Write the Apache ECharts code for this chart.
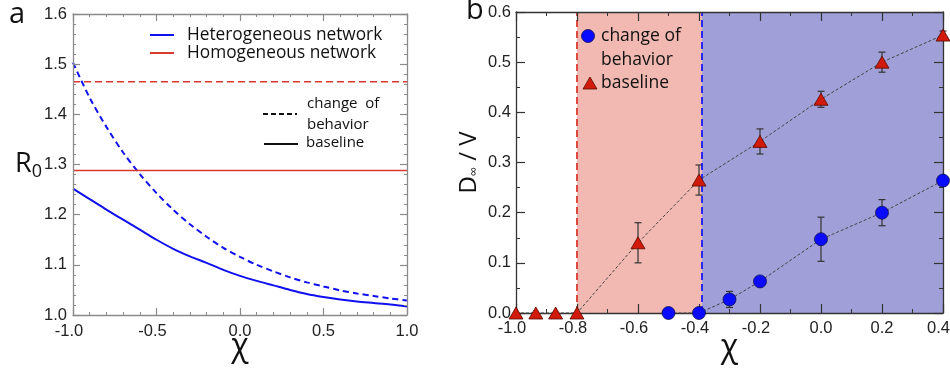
<!DOCTYPE html>
<html><head><meta charset="utf-8">
<script src="https://cdn.jsdelivr.net/npm/echarts@6/dist/echarts.min.js"></script>
<style>html,body{margin:0;padding:0;background:#fff}#c{width:950px;height:368px}</style>
</head><body><div id="c"></div>
<script>
// ---- Panel a data ----
const chiCurve = [-1.0,-0.9,-0.8,-0.7,-0.6,-0.5,-0.4,-0.3,-0.2,-0.1,0.0,0.1,0.2,0.3,0.4,0.5,0.6,0.7,0.8,0.9,1.0];
const r0HetChange = [1.503,1.433,1.375,1.324,1.281,1.243,1.210,1.181,1.156,1.134,1.116,1.100,1.087,1.075,1.065,1.057,1.049,1.043,1.038,1.033,1.029];
const r0HetBase = [1.252,1.231,1.210,1.190,1.170,1.150,1.132,1.117,1.104,1.090,1.078,1.068,1.059,1.050,1.042,1.036,1.031,1.027,1.024,1.021,1.017];
const r0HomChange = 1.465;
const r0HomBase = 1.288;
// ---- Panel b data ----
const chiBase = [-1.0,-0.935,-0.87,-0.8,-0.6,-0.4,-0.2,0.0,0.2,0.4];
const dBase = [0,0,0,0,0.140,0.265,0.342,0.426,0.500,0.554];
const dBaseErr = [0,0,0,0,0.040,0.030,0.025,0.016,0.020,0.008];
const chiChange = [-0.5,-0.4,-0.3,-0.2,0.0,0.2,0.4];
const dChange = [0,0,0.027,0.063,0.147,0.200,0.264];
const dChangeErr = [0,0,0.016,0,0.044,0.026,0];
const thrHom = -0.8, thrHet = -0.39, chiMaxB = 0.4;

const FONT = '"Liberation Sans", Arial, sans-serif';
const TFONT = '"Open Sans", "DejaVu Sans", sans-serif';

function pairs(xs, ys){ return xs.map((x,i)=>[x, ys[i]]); }
function errData(xs, ys, es){ return xs.map((x,i)=>[x, ys[i]-es[i], ys[i]+es[i]]).filter((d,i)=>es[i]>0); }

function errRender(params, api){
  const x = api.value(0);
  const p1 = api.coord([x, api.value(1)]);
  const p2 = api.coord([x, api.value(2)]);
  const w = 3.5, st = {stroke:'#333', lineWidth:1.2};
  return {type:'group', children:[
    {type:'line', shape:{x1:p1[0],y1:p1[1],x2:p2[0],y2:p2[1]}, style:st},
    {type:'line', shape:{x1:p1[0]-w,y1:p1[1],x2:p1[0]+w,y2:p1[1]}, style:st},
    {type:'line', shape:{x1:p2[0]-w,y1:p2[1],x2:p2[0]+w,y2:p2[1]}, style:st}
  ]};
}

function axisCommon(color, majorLen, minorLen, split){
  return {
    z:10,
    nameMoveOverlap:false,
    axisLine:{show:true, onZero:false, lineStyle:{color:color, width:1.3}},
    axisTick:{show:true, inside:true, length:majorLen, lineStyle:{color:color, width:1.2}},
    minorTick:{show:true, splitNumber:split, length:minorLen, lineStyle:{color:color, width:1}},
    splitLine:{show:false}
  };
}

const chart = echarts.init(document.getElementById('c'), null, {renderer:'canvas'});
const gA = '#8a8a8a', gB = '#333';
const labelStyle = {color:'#222', fontFamily:FONT, fontSize:16.5};
const xRich = {
  n:{fontFamily:FONT, fontSize:16.5, color:'#222'},
  neg:{fontFamily:FONT, fontSize:16.5, color:'#222', padding:[0,8,0,0]},
  edge:{fontFamily:FONT, fontSize:16.5, color:'#222', padding:[0,9,0,0]}
};
function xFmt(maxV){
  return v => {
    const s = v.toFixed(1);
    if (v < 0) return '{neg|' + s + '}';
    if (Math.abs(v - maxV) < 1e-9 && maxV < 1) return '{edge|' + s + '}';
    return '{n|' + s + '}';
  };
}

const option = {
  animation:false,
  grid:[
    {left:73, top:14, width:334, height:301, outerBoundsMode:'none', containLabel:false},
    {left:516, top:12, width:427, height:301, outerBoundsMode:'none', containLabel:false}
  ],
  xAxis:[
    Object.assign({type:'value', gridIndex:0, min:-1, max:1, interval:0.5, position:'bottom',
      name:'χ', nameLocation:'middle', nameGap:16, nameTextStyle:{fontFamily:TFONT, fontSize:32, color:'#111'},
      axisLabel:{margin:8, formatter:xFmt(1), rich:xRich}}, axisCommon(gA,7,3,5)),
    Object.assign({type:'value', gridIndex:0, min:-1, max:1, interval:0.5, position:'top', axisLabel:{show:false}}, axisCommon(gA,7,3,5)),
    Object.assign({type:'value', gridIndex:1, min:-1, max:chiMaxB, interval:0.2, position:'bottom',
      name:'χ', nameLocation:'middle', nameGap:19, nameTextStyle:{fontFamily:TFONT, fontSize:32, color:'#111'},
      axisLabel:{margin:7, formatter:xFmt(chiMaxB), rich:xRich}}, axisCommon(gB,9,4,2)),
    Object.assign({type:'value', gridIndex:1, min:-1, max:chiMaxB, interval:0.2, position:'top', axisLabel:{show:false}}, axisCommon(gB,9,4,2))
  ],
  yAxis:[
    Object.assign({type:'value', gridIndex:0, min:1.0, max:1.6, interval:0.1, position:'left',
      name:'{r|R}{s|0}', nameLocation:'middle', nameRotate:0, nameGap:31,
      nameTextStyle:{rich:{r:{fontFamily:TFONT, fontSize:27, color:'#111'}, s:{fontFamily:TFONT, fontSize:18, color:'#111', padding:[14,0,0,0]}}},
      axisLabel:Object.assign({margin:6, formatter:v=>v.toFixed(1)}, labelStyle)}, axisCommon(gA,7,3,5)),
    Object.assign({type:'value', gridIndex:0, min:1.0, max:1.6, interval:0.1, position:'right', axisLabel:{show:false}}, axisCommon(gA,7,3,5)),
    Object.assign({type:'value', gridIndex:1, min:0, max:0.6, interval:0.1, position:'left',
      name:'D{s|∞} / V', nameLocation:'middle', nameRotate:90, nameGap:35,
      nameTextStyle:{fontFamily:TFONT, fontSize:24, color:'#111', rich:{s:{fontFamily:TFONT, fontSize:13, color:'#111', padding:[10,0,0,0]}}},
      axisLabel:Object.assign({margin:5, formatter:v=>v.toFixed(1)}, labelStyle)}, axisCommon(gB,9,4,2)),
    Object.assign({type:'value', gridIndex:1, min:0, max:0.6, interval:0.1, position:'right', axisLabel:{show:false}}, axisCommon(gB,9,4,2))
  ],
  series:[
    // Panel a
    {type:'line', xAxisIndex:0, yAxisIndex:0, data:pairs(chiCurve, r0HetChange), showSymbol:false, smooth:0.3,
      lineStyle:{color:'#1010f0', width:2, type:[6,4]}},
    {type:'line', xAxisIndex:0, yAxisIndex:0, data:pairs(chiCurve, r0HetBase), showSymbol:false, smooth:0.3,
      lineStyle:{color:'#1010f0', width:2}},
    {type:'line', xAxisIndex:0, yAxisIndex:0, data:[[-1, r0HomChange],[1, r0HomChange]], showSymbol:false,
      lineStyle:{color:'#d83a30', width:1.6, type:[7,4]}},
    {type:'line', xAxisIndex:0, yAxisIndex:0, data:[[-1, r0HomBase],[1, r0HomBase]], showSymbol:false,
      lineStyle:{color:'#d83a30', width:1.6}},
    // Panel b shading + threshold lines
    {type:'line', xAxisIndex:2, yAxisIndex:2, data:[], silent:true,
      markArea:{silent:true, itemStyle:{opacity:1}, data:[
        [{xAxis:thrHom, itemStyle:{color:'#f1b9b1'}},{xAxis:thrHet}],
        [{xAxis:thrHet, itemStyle:{color:'#a09fd8'}},{xAxis:chiMaxB}]
      ]},
      markLine:{silent:true, symbol:'none', label:{show:false}, data:[
        {xAxis:thrHom, lineStyle:{color:'#d83a30', width:1.8, type:[7,4]}},
        {xAxis:thrHet, lineStyle:{color:'#1a1aff', width:1.8, type:[7,4]}}
      ]}
    },
    // error bars
    {type:'custom', xAxisIndex:2, yAxisIndex:2, renderItem:errRender, data:errData(chiBase, dBase, dBaseErr), z:3},
    {type:'custom', xAxisIndex:2, yAxisIndex:2, renderItem:errRender, data:errData(chiChange, dChange, dChangeErr), z:3},
    // data series
    {type:'line', name:'baseline', xAxisIndex:2, yAxisIndex:2, data:pairs(chiBase, dBase), clip:false,
      symbol:'triangle', symbolSize:[14,12], lineStyle:{color:'#444', width:1, type:[3,2]},
      itemStyle:{color:'#d11a0a', borderColor:'#5a0a00', borderWidth:0.8}, z:12},
    {type:'line', name:'change of behavior', xAxisIndex:2, yAxisIndex:2, data:pairs(chiChange, dChange), clip:false,
      symbol:'circle', symbolSize:13, lineStyle:{color:'#444', width:1, type:[3,2]},
      itemStyle:{color:'#0a0aff', borderColor:'#101050', borderWidth:0.8}, z:13}
  ],
  graphic:[
    {type:'text', left:9, top:0, style:{text:'a', font:'29px '+TFONT, fill:'#111'}},
    {type:'text', left:466, top:-4, style:{text:'b', font:'29px '+TFONT, fill:'#111'}},
    // legend a
    {type:'line', shape:{x1:150,y1:35,x2:174,y2:35}, style:{stroke:'#1010f0', lineWidth:2}},
    {type:'text', x:187, y:35, style:{text:'Heterogeneous network', font:'17.3px '+TFONT, fill:'#111', verticalAlign:'middle'}},
    {type:'line', shape:{x1:150,y1:53,x2:174,y2:53}, style:{stroke:'#d83a30', lineWidth:2}},
    {type:'text', x:187, y:53, style:{text:'Homogeneous network', font:'17.3px '+TFONT, fill:'#111', verticalAlign:'middle'}},
    {type:'line', shape:{x1:263,y1:114,x2:297,y2:114}, style:{stroke:'#111', lineWidth:2, lineDash:[5,3]}},
    {type:'text', x:307, y:104, style:{text:'change  of', font:'15px '+TFONT, fill:'#111', verticalAlign:'middle'}},
    {type:'text', x:307, y:125, style:{text:'behavior', font:'15px '+TFONT, fill:'#111', verticalAlign:'middle'}},
    {type:'line', shape:{x1:264,y1:144,x2:298,y2:144}, style:{stroke:'#111', lineWidth:2}},
    {type:'text', x:306, y:143, style:{text:'baseline', font:'15px '+TFONT, fill:'#111', verticalAlign:'middle'}},
    // legend b
    {type:'circle', z:20, shape:{cx:588, cy:36, r:6.5}, style:{fill:'#0a0aff', stroke:'#101050', lineWidth:0.8}},
    {type:'text', z:20, x:601, y:36, style:{text:'change of', font:'17.5px '+TFONT, fill:'#111', verticalAlign:'middle'}},
    {type:'text', z:20, x:601, y:60, style:{text:'behavior', font:'17.5px '+TFONT, fill:'#111', verticalAlign:'middle'}},
    {type:'polygon', z:20, shape:{points:[[583,89],[597,89],[590,77]]}, style:{fill:'#d11a0a', stroke:'#5a0a00', lineWidth:0.8}},
    {type:'text', z:20, x:601, y:83, style:{text:'baseline', font:'17.5px '+TFONT, fill:'#111', verticalAlign:'middle'}}
  ]
};
chart.setOption(option);
</script>
</body></html>
